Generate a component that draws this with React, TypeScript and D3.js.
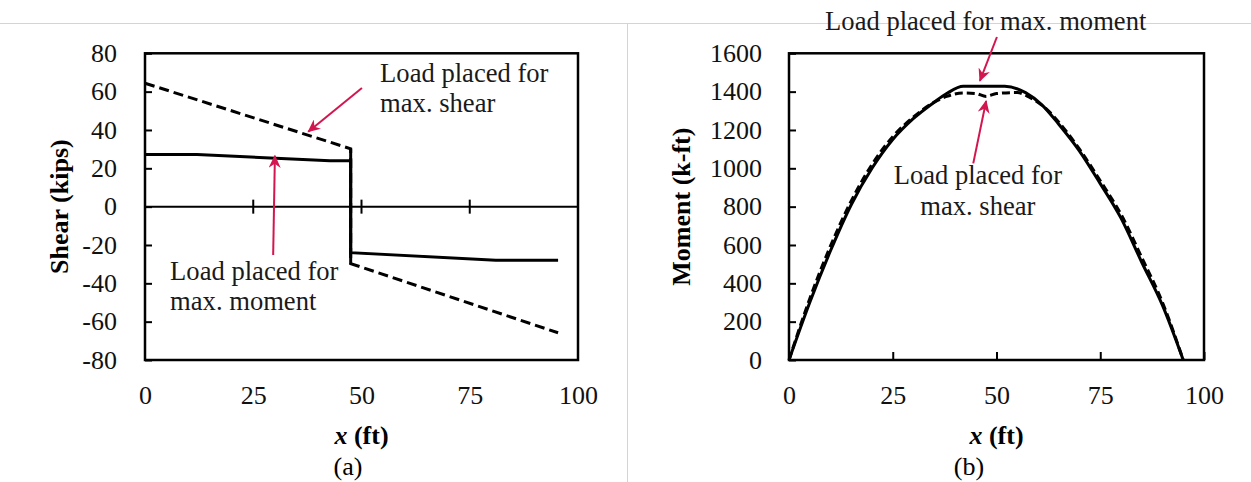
import React, { useEffect, useRef } from 'react';
import * as d3 from 'd3';

// (a) shear diagram, x in ft, V in kips
const shearMomentLoadX = [0, 12, 42.7, 47.5, 47.5, 81, 95.4];
const shearMomentLoadV = [27.2, 27.2, 24, 24, -24, -28, -28];
const shearShearLoadX = [0, 47.5, 47.5, 95.4];
const shearShearLoadV = [64.4, 30.2, -29.7, -65.8];

// (b) moment diagram, x in ft, M in k-ft
const momentMomentLoadX = [0, 5, 10, 15, 20, 25, 30, 35, 38, 42, 52, 57, 61, 65, 70, 75, 80, 85, 90, 95];
const momentMomentLoadM = [0, 300, 570, 810, 1000, 1150, 1260, 1345, 1390, 1428, 1428, 1395, 1330, 1230, 1090, 920, 740, 510, 285, 0];
const momentShearLoadX = [0, 5, 10, 15, 20, 25, 30, 35, 38, 42, 45, 47.5, 50, 55, 58, 62, 66, 70, 75, 80, 85, 90, 95];
const momentShearLoadM = [0, 320, 595, 830, 1020, 1165, 1268, 1345, 1375, 1393, 1390, 1375, 1390, 1395, 1370, 1310, 1215, 1100, 935, 760, 535, 300, 0];

const xTicks = [0, 25, 50, 75, 100];
const shearTicks = [-80, -60, -40, -20, 0, 20, 40, 60, 80];
const momentTicks = [0, 200, 400, 600, 800, 1000, 1200, 1400, 1600];

const FONT = '"Liberation Serif", "Times New Roman", serif';
const RED = '#d3164f';

const App = () => {
  const chartRef = useRef<SVGSVGElement>(null);

  useEffect(() => {
    drawChart();
  }, []);

  const drawChart = () => {
    const svg = d3.select(chartRef.current);
    svg.selectAll('*').remove();

    svg.append('defs')
      .append('marker')
      .attr('id', 'redArrow')
      .attr('markerUnits', 'userSpaceOnUse')
      .attr('markerWidth', 14)
      .attr('markerHeight', 12)
      .attr('refX', 12)
      .attr('refY', 6)
      .attr('orient', 'auto')
      .append('path')
      .attr('d', 'M0,0 L13,6 L0,12 L4,6 Z')
      .attr('fill', RED);

    // frame lines of the figure
    svg.append('line').attr('x1', 0).attr('x2', 1251).attr('y1', 23.5).attr('y2', 23.5)
      .attr('stroke', '#d4d4d4').attr('stroke-width', 1);
    svg.append('line').attr('x1', 627.5).attr('x2', 627.5).attr('y1', 23.5).attr('y2', 482)
      .attr('stroke', '#d4d4d4').attr('stroke-width', 1);

    const plain = d => String(d); // hyphen minus, no thousands separator

    const styleAxis = (g, size) => {
      g.select('.domain').remove();
      g.selectAll('line').attr('stroke', '#000').attr('stroke-width', 2);
      g.selectAll('text').attr('font-family', FONT).attr('font-size', size).attr('fill', '#111');
    };

    const addText = (g, x, y, lines, anchor, gap) => {
      lines.forEach((t, i) => {
        g.append('text')
          .attr('x', x).attr('y', y + i * gap)
          .attr('text-anchor', anchor)
          .attr('font-family', FONT).attr('font-size', 26.6).attr('fill', '#1a1a1a')
          .text(t);
      });
    };

    const addArrow = (g, x1, y1, x2, y2) => {
      g.append('line')
        .attr('x1', x1).attr('y1', y1).attr('x2', x2).attr('y2', y2)
        .attr('stroke', RED).attr('stroke-width', 2)
        .attr('marker-end', 'url(#redArrow)');
    };

    const addXTitle = (g, cx) => {
      const t = g.append('text')
        .attr('x', cx).attr('y', 444)
        .attr('text-anchor', 'middle')
        .attr('font-family', FONT).attr('font-size', 26).attr('font-weight', 'bold');
      t.append('tspan').attr('font-style', 'italic').text('x');
      t.append('tspan').text(' (ft)');
    };

    // ---------- (a) Shear ----------
    const xA = d3.scaleLinear().domain([0, 100]).range([145, 578]);
    const yA = d3.scaleLinear().domain([-80, 80]).range([360, 53.3]);
    const gA = svg.append('g');

    gA.append('rect')
      .attr('x', xA(0)).attr('y', yA(80))
      .attr('width', xA(100) - xA(0)).attr('height', yA(-80) - yA(80))
      .attr('fill', 'none').attr('stroke', '#000').attr('stroke-width', 2.5);

    gA.append('g')
      .attr('transform', `translate(${xA(0)},0)`)
      .call(d3.axisLeft(yA).tickValues(shearTicks).tickFormat(plain).tickSize(-7).tickPadding(28))
      .call(g => styleAxis(g, 26));

    gA.append('g')
      .attr('transform', `translate(0,${yA(-80)})`)
      .call(d3.axisBottom(xA).tickValues(xTicks).tickFormat(plain).tickSize(0).tickPadding(25.5))
      .call(g => styleAxis(g, 26));

    // zero line with crossing ticks
    gA.append('line')
      .attr('x1', xA(0)).attr('x2', xA(100)).attr('y1', yA(0)).attr('y2', yA(0))
      .attr('stroke', '#000').attr('stroke-width', 2);
    gA.selectAll('.zeroTick')
      .data(xTicks.filter(d => d > 0 && d < 100))
      .enter()
      .append('line')
      .attr('class', 'zeroTick')
      .attr('x1', d => xA(d)).attr('x2', d => xA(d))
      .attr('y1', yA(0) - 7).attr('y2', yA(0) + 7)
      .attr('stroke', '#000').attr('stroke-width', 2);

    const lineA = d3.line<number>().x(i => xA(i[0])).y(i => yA(i[1]));
    const shearDashed = shearShearLoadX.map((x, i) => [x, shearShearLoadV[i]]);
    const shearSolid = shearMomentLoadX.map((x, i) => [x, shearMomentLoadV[i]]);

    gA.append('path')
      .attr('d', lineA(shearDashed))
      .attr('fill', 'none').attr('stroke', '#000').attr('stroke-width', 3)
      .attr('stroke-dasharray', '10,5');
    // the jump of the dashed case reads as a solid bar
    gA.append('path')
      .attr('d', lineA(shearDashed.slice(1, 3)))
      .attr('fill', 'none').attr('stroke', '#000').attr('stroke-width', 3);
    gA.append('path')
      .attr('d', lineA(shearSolid))
      .attr('fill', 'none').attr('stroke', '#000').attr('stroke-width', 3);

    gA.append('text')
      .attr('transform', `translate(68,${yA(0)}) rotate(-90)`)
      .attr('text-anchor', 'middle')
      .attr('font-family', FONT).attr('font-size', 26).attr('font-weight', 'bold')
      .text('Shear (kips)');
    addXTitle(gA, (xA(0) + xA(100)) / 2);
    gA.append('text')
      .attr('x', 348).attr('y', 475).attr('text-anchor', 'middle')
      .attr('font-family', FONT).attr('font-size', 26)
      .text('(a)');

    addText(gA, xA(54.3), yA(65.2), ['Load placed for', 'max. shear'], 'start', 30);
    addText(gA, xA(5.8), yA(-38.2), ['Load placed for', 'max. moment'], 'start', 30.5);
    addArrow(gA, xA(50.1), yA(61.9), xA(37.7), yA(39.1));
    addArrow(gA, xA(29.6), yA(-25.2), xA(30), yA(26.5));

    // ---------- (b) Moment ----------
    const xB = d3.scaleLinear().domain([0, 100]).range([789, 1204]);
    const yB = d3.scaleLinear().domain([0, 1600]).range([360, 53.3]);
    const gB = svg.append('g');

    gB.append('rect')
      .attr('x', xB(0)).attr('y', yB(1600))
      .attr('width', xB(100) - xB(0)).attr('height', yB(0) - yB(1600))
      .attr('fill', 'none').attr('stroke', '#000').attr('stroke-width', 2.5);

    gB.append('g')
      .attr('transform', `translate(${xB(0)},0)`)
      .call(d3.axisLeft(yB).tickValues(momentTicks).tickFormat(plain).tickSize(-7).tickPadding(27))
      .call(g => styleAxis(g, 26));

    gB.append('g')
      .attr('transform', `translate(0,${yB(0)})`)
      .call(d3.axisBottom(xB).tickValues(xTicks).tickFormat(plain).tickSize(-8).tickPadding(25.5))
      .call(g => styleAxis(g, 26));

    const lineB = d3.line<number>().x(i => xB(i[0])).y(i => yB(i[1])).curve(d3.curveMonotoneX);
    gB.append('path')
      .attr('d', lineB(momentShearLoadX.map((x, i) => [x, momentShearLoadM[i]])))
      .attr('fill', 'none').attr('stroke', '#000').attr('stroke-width', 3)
      .attr('stroke-dasharray', '8,4');
    gB.append('path')
      .attr('d', lineB(momentMomentLoadX.map((x, i) => [x, momentMomentLoadM[i]])))
      .attr('fill', 'none').attr('stroke', '#000').attr('stroke-width', 3);

    gB.append('text')
      .attr('transform', `translate(690,${yB(800)}) rotate(-90)`)
      .attr('text-anchor', 'middle')
      .attr('font-family', FONT).attr('font-size', 26).attr('font-weight', 'bold')
      .text('Moment (k-ft)');
    addXTitle(gB, (xB(0) + xB(100)) / 2);
    gB.append('text')
      .attr('x', 969).attr('y', 475).attr('text-anchor', 'middle')
      .attr('font-family', FONT).attr('font-size', 26)
      .text('(b)');

    addText(gB, xB(8.7), yB(1722), ['Load placed for max. moment'], 'start', 0);
    addText(gB, xB(45.5), yB(918), ['Load placed for', 'max. shear'], 'middle', 31);
    addArrow(gB, xB(50.1), yB(1685), xB(46), yB(1456));
    addArrow(gB, xB(44.4), yB(1026), xB(47.5), yB(1351));
  };

  return (
    <div style={{ position: 'absolute', left: 0, top: 0 }}>
      <svg ref={chartRef} width={1251} height={482} style={{ display: 'block', background: '#fff' }} />
    </div>
  );
};

export default App;
